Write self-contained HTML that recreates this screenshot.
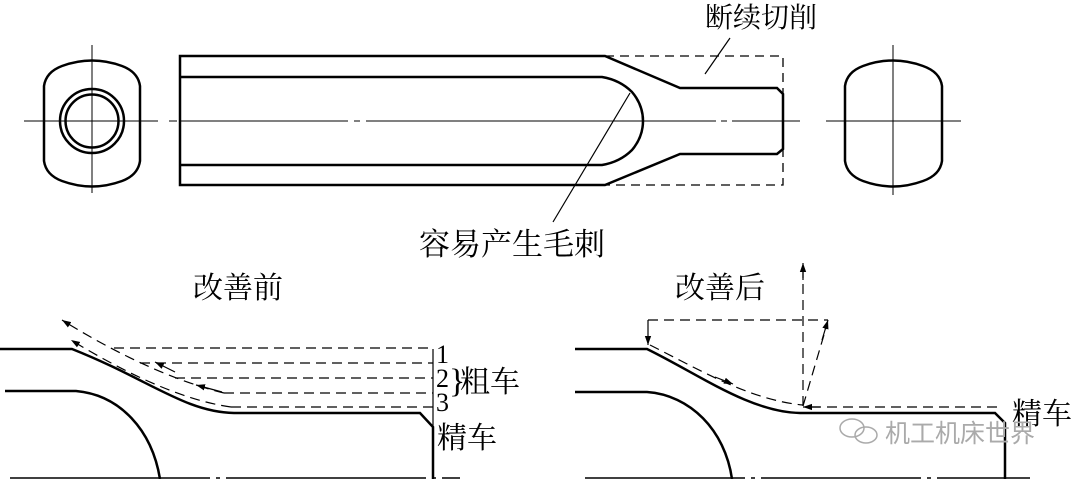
<!DOCTYPE html>
<html><head><meta charset="utf-8"><style>
html,body{margin:0;padding:0;background:#fff;width:1076px;height:479px;overflow:hidden}
svg{display:block}
text{font-family:"Liberation Serif","Noto Serif CJK SC",serif;fill:#000}
</style></head><body>
<svg width="1076" height="479" viewBox="0 0 1076 479" xmlns="http://www.w3.org/2000/svg">
<defs>
<marker id="ar" viewBox="0 0 10 10" refX="10" refY="5" markerWidth="9" markerHeight="9" orient="auto" markerUnits="userSpaceOnUse"><path d="M0,1.5 L10,5 L0,8.5 Z" fill="#000"/></marker>
</defs>
<g fill="none" stroke="#000">
<!-- left end view -->
<path d="M44,86 Q46,72 62,66 Q92,55 122,66 Q138,72 140,86 L140,161 Q138,175 122,181 Q92,192 62,181 Q46,175 44,161 Z" stroke-width="2.5"/>
<circle cx="92" cy="121" r="32" stroke-width="2.5"/>
<circle cx="92" cy="121" r="26.5" stroke-width="2.5"/>
<line x1="92" y1="45" x2="92" y2="193" stroke-width="1"/>
<line x1="24" y1="121" x2="158" y2="121" stroke-width="1"/>
<line x1="169" y1="121" x2="177" y2="121" stroke-width="1"/>
<!-- main body -->
<path d="M180,56 L605,56 L680,88 L777,88 L783,94 L783,149 L777,154 L680,154 L605,185 L180,185 Z" stroke-width="2.5"/>
<path d="M180,77 L602,77 Q620,80 632,92 Q643,105 643,121 Q643,137 632,150 Q620,162 602,165 L180,165" stroke-width="2.5"/>
<path d="M605,56 L783,56 L783,185 L605,185" stroke-width="1.3" stroke-dasharray="9,6"/>
<line x1="180" y1="121" x2="348" y2="121" stroke-width="1"/>
<line x1="354" y1="121" x2="360" y2="121" stroke-width="1"/>
<line x1="366" y1="121" x2="716" y2="121" stroke-width="1"/>
<line x1="721" y1="121" x2="727" y2="121" stroke-width="1"/>
<line x1="732" y1="121" x2="800" y2="121" stroke-width="1"/>
<line x1="730" y1="38" x2="705" y2="74" stroke-width="1.2"/>
<line x1="630" y1="93" x2="553" y2="222" stroke-width="1.2"/>
<!-- right end view -->
<path d="M845,86 Q847,72 863,66 Q893,55 923,66 Q940,72 942,86 L942,161 Q940,175 923,181 Q893,192 863,181 Q847,175 845,161 Z" stroke-width="2.5"/>
<line x1="893" y1="45" x2="893" y2="195" stroke-width="1"/>
<line x1="826" y1="121" x2="961" y2="121" stroke-width="1"/>

<!-- bottom left -->
<path d="M0,349 L72,349 C150,380 185,412 234,413 L420,413 L433,427 L433,479" stroke-width="2.5"/>
<line x1="433" y1="349" x2="433" y2="427" stroke-width="1.2"/>
<path d="M5,391 L76,391 C120,395 152,430 160,479" stroke-width="2.5"/>
<path d="M10,478 L460,478" stroke-width="1.5" stroke-dasharray="200,6,4,6"/>
<g stroke-width="1.2" stroke-dasharray="10,6">
<line x1="114" y1="348" x2="433" y2="348"/>
<line x1="140" y1="363" x2="433" y2="363"/>
<line x1="175" y1="378" x2="433" y2="378"/>
<line x1="224" y1="393" x2="433" y2="393"/>
<line x1="231" y1="407" x2="433" y2="407"/>
<path d="M224,393 C170,380 110,350 62,320" marker-end="url(#ar)"/>
<path d="M231,407 C180,400 120,370 71,340" marker-end="url(#ar)"/>
</g>
<path d="M222,392 L196,385" stroke-width="1.2" marker-end="url(#ar)"/>
<path d="M175,372 L155,362" stroke-width="1.2" marker-end="url(#ar)"/>

<!-- bottom right -->
<path d="M575,349 L647,349 C700,375 750,412 800,413 L995,413 L1005,423 L1005,479" stroke-width="2.5"/>
<path d="M575,392 L647,392 C690,395 725,430 732,479" stroke-width="2.5"/>
<path d="M585,478 L1030,478" stroke-width="1.5" stroke-dasharray="160,6,4,6"/>
<g stroke-width="1.2" stroke-dasharray="10,6">
<line x1="648" y1="320" x2="828" y2="320"/>
<line x1="648" y1="320" x2="648" y2="343"/>
<line x1="803" y1="406" x2="803" y2="270"/>
<line x1="803" y1="406" x2="826" y2="328"/>
<line x1="997" y1="407" x2="812" y2="407"/>
<path d="M650,345 C700,370 750,400 803,405"/>
</g>
<path d="M648,330 L648,345" stroke-width="1.2" marker-end="url(#ar)"/>
<path d="M803,280 L803,263" stroke-width="1.2" marker-end="url(#ar)"/>
<path d="M822,340 L828,320" stroke-width="1.2" marker-end="url(#ar)"/>
<path d="M820,407 L803,407" stroke-width="1.2" marker-end="url(#ar)"/>
<path d="M715,377 L733,384" stroke-width="1.2" marker-end="url(#ar)"/>
<!-- watermark icon -->
<g stroke="#aaa" stroke-width="1.5">
<ellipse cx="852" cy="428" rx="12" ry="9"/>
<ellipse cx="866" cy="435" rx="11" ry="8"/>
</g>
</g>
<text x="705" y="27" font-size="28">断续切削</text>
<text x="419" y="255" font-size="31">容易产生毛刺</text>
<text x="193" y="298" font-size="30">改善前</text>
<text x="675" y="298" font-size="30">改善后</text>
<text x="436" y="363" font-size="26">1</text>
<text x="436" y="387" font-size="26">2</text>
<text x="436" y="411" font-size="26">3</text>
<text x="449" y="392" font-size="34">}</text>
<text x="460" y="392" font-size="30">粗车</text>
<text x="437" y="448" font-size="30">精车</text>
<text x="1012" y="424" font-size="30">精车</text>
<text x="885" y="442" font-size="25" style="fill:#aaa;font-family:'Liberation Sans','Noto Sans CJK SC',sans-serif">机工机床世界</text>
</svg>
</body></html>
